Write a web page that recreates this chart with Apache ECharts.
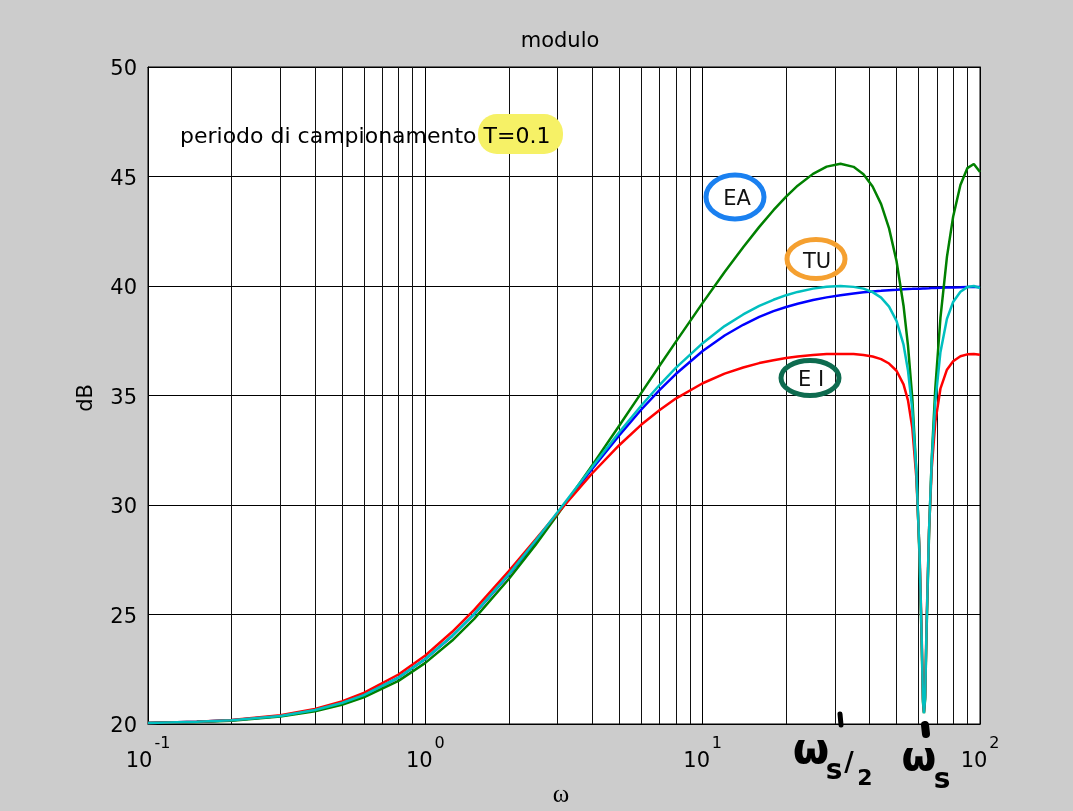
<!DOCTYPE html>
<html>
<head>
<meta charset="utf-8">
<script src="https://cdn.jsdelivr.net/npm/echarts@6/dist/echarts.min.js"></script>
<style>
html,body{margin:0;padding:0;background:#cccccc;}
#chart{width:1073px;height:811px;}
</style>
</head>
<body>
<div id="chart"></div>
<script>
// ---- data ----
const omega = [0.1,0.15,0.2,0.3,0.4,0.5,0.6,0.8,
  1,1.25,1.5,2,2.5,3,4,5,6,7,8,
  10,12,14,16,18,20,22,25,28,31.4,
  35,38,41,44,47,50,53,55,57,59,
  60.5,61.5,62.3,62.8,63.4,64.2,65.5,67,69,72,
  76,80,85,90,95,100];

// continuous-time response (blue)
const dbContinuous = [20.04,20.10,20.17,20.37,20.64,20.96,21.32,22.12,
  22.97,24.02,25.02,26.82,28.34,29.63,31.66,33.18,34.35,35.26,35.98,
  37.03,37.74,38.23,38.59,38.85,39.04,39.19,39.36,39.48,39.58,
  39.66,39.71,39.75,39.78,39.81,39.83,39.85,39.86,39.87,39.88,
  39.88,39.89,39.89,39.89,39.89,39.90,39.90,39.91,39.91,39.92,
  39.93,39.93,39.94,39.95,39.95,39.96];

// EA (green)
const dbEA = [20.04,20.09,20.15,20.34,20.58,20.88,21.22,21.97,
  22.79,23.81,24.80,26.62,28.19,29.56,31.82,33.62,35.11,36.37,37.45,
  39.23,40.64,41.77,42.70,43.46,44.08,44.58,45.12,45.45,45.58,
  45.44,45.10,44.54,43.74,42.63,41.14,39.10,37.28,34.88,31.48,
  27.69,24.14,20.98,20.50,21.11,24.29,28.67,32.15,35.34,38.54,
  41.33,43.16,44.61,45.38,45.57,45.21];

// EI (red)
const dbEI = [20.05,20.10,20.18,20.40,20.69,21.03,21.42,22.26,
  23.13,24.21,25.21,26.98,28.43,29.63,31.45,32.73,33.66,34.34,34.86,
  35.56,36.00,36.28,36.48,36.61,36.71,36.78,36.85,36.89,36.90,
  36.89,36.85,36.78,36.66,36.46,36.13,35.51,34.78,33.52,31.19,
  27.97,24.54,21.15,20.55,21.29,24.69,28.86,31.70,33.79,35.31,
  36.18,36.56,36.79,36.88,36.90,36.86];

// TU (cyan)
const dbTU = [20.04,20.10,20.17,20.37,20.64,20.96,21.32,22.12,
  22.97,24.03,25.03,26.84,28.38,29.68,31.75,33.32,34.53,35.49,36.26,
  37.39,38.17,38.70,39.09,39.37,39.58,39.73,39.88,39.97,40.00,
  39.96,39.88,39.72,39.47,39.06,38.41,37.32,36.14,34.35,31.45,
  27.89,24.36,21.07,20.50,21.20,24.51,28.84,32.05,34.71,36.98,
  38.50,39.27,39.74,39.95,40.00,39.91];

// axis ticks / labels
const xTickExp = ['-1','0','1','2'];          // labels 10^-1 .. 10^2
const xMinorGrid = [0.2,0.3,0.4,0.5,0.6,0.7,0.8,0.9,
  2,3,4,5,6,7,8,9,20,30,40,50,60,70,80,90];
const yTicks = [20,25,30,35,40,45,50];

const FONT = 'DejaVu Sans';
const pair = arr => omega.map((w, i) => [w, arr[i]]);

const chart = echarts.init(document.getElementById('chart'), null, {renderer: 'canvas'});

const frameAxis = {
  axisLine: {show: true, lineStyle: {color: '#000', width: 1}},
  axisTick: {show: true, inside: true, length: 5, lineStyle: {color: '#000'}},
  splitLine: {show: false},
  axisLabel: {show: false}
};

const option = {
  backgroundColor: '#cccccc',
  animation: false,
  grid: {
    left: 148, right: 93, top: 67, bottom: 87,
    show: true, backgroundColor: '#ffffff', borderColor: '#000', borderWidth: 1
  },
  xAxis: [{
    type: 'log', logBase: 10, min: 0.1, max: 100,
    axisLine: {show: true, lineStyle: {color: '#000', width: 1}},
    axisTick: {show: true, inside: true, length: 5, lineStyle: {color: '#000'}},
    splitLine: {show: true, lineStyle: {color: '#000', width: 1}},
    axisLabel: {
      margin: 13,
      formatter: function (v) {
        const idx = Math.round(Math.log10(v)) + 1;
        const ex = xTickExp[idx];
        const sp = ex.length > 1 ? 'sp2' : 'sp1';
        return '{e|' + ex + '}\n{b|10}{' + sp + '|}';
      },
      rich: {
        e: {fontSize: 16, fontFamily: FONT, color: '#000', lineHeight: 14, align: 'right'},
        b: {fontSize: 21, fontFamily: FONT, color: '#000', lineHeight: 22},
        sp1: {width: 12, lineHeight: 22},
        sp2: {width: 18, lineHeight: 22}
      }
    }
  }, Object.assign({type: 'log', logBase: 10, min: 0.1, max: 100, position: 'top'}, frameAxis)],
  yAxis: [{
    type: 'value', min: yTicks[0], max: yTicks[yTicks.length - 1], interval: 5,
    axisLine: {show: true, lineStyle: {color: '#000', width: 1}},
    axisTick: {show: true, inside: true, length: 5, lineStyle: {color: '#000'}},
    splitLine: {show: true, lineStyle: {color: '#000', width: 1}},
    axisLabel: {
      margin: 11,
      formatter: v => '{p|}\n{a|' + v + '}',
      rich: {
        p: {lineHeight: 6, fontSize: 6},
        a: {fontSize: 21, fontFamily: FONT, color: '#000', lineHeight: 22, align: 'right'}
      }
    }
  }, Object.assign({type: 'value', min: yTicks[0], max: yTicks[yTicks.length - 1], interval: 5, position: 'right'}, frameAxis)],
  series: [
    {
      name: 'continuo', type: 'line', data: pair(dbContinuous), showSymbol: false,
      lineStyle: {color: '#0000ff', width: 2.5}, itemStyle: {color: '#0000ff'}, z: 3,
      markLine: {
        silent: true, symbol: ['none', 'none'], label: {show: false},
        lineStyle: {color: '#111', width: 1, type: 'solid'},
        emphasis: {disabled: true},
        data: xMinorGrid.map(v => ({xAxis: v})),
        z: 1
      }
    },
    {name: 'EA', type: 'line', data: pair(dbEA), showSymbol: false,
      lineStyle: {color: '#008000', width: 2.5}, itemStyle: {color: '#008000'}, z: 4},
    {name: 'EI', type: 'line', data: pair(dbEI), showSymbol: false,
      lineStyle: {color: '#ff0000', width: 2.5}, itemStyle: {color: '#ff0000'}, z: 5},
    {name: 'TU', type: 'line', data: pair(dbTU), showSymbol: false,
      lineStyle: {color: '#00bfbf', width: 2.5}, itemStyle: {color: '#00bfbf'}, z: 6}
  ],
  graphic: [
    {type: 'text', x: 560, y: 42, z: 10,
      style: {text: 'modulo', fontSize: 21, fontFamily: FONT, fill: '#000', align: 'center', verticalAlign: 'middle'}},
    {type: 'text', x: 87, y: 398, rotation: Math.PI / 2, z: 10,
      style: {text: 'dB', fontSize: 21, fontFamily: FONT, fill: '#000', align: 'center', verticalAlign: 'middle'}},
    {type: 'text', x: 561, y: 795, z: 10,
      style: {text: 'ω', fontSize: 25, fontFamily: 'Liberation Serif', fill: '#000', align: 'center', verticalAlign: 'middle'}},
    // highlighted annotation
    {type: 'rect', z: 10, shape: {x: 478, y: 114, width: 85, height: 40, r: 19},
      style: {fill: '#f6f166'}},
    {type: 'text', x: 180, y: 137, z: 11,
      style: {text: 'periodo di campionamento T=0.1', fontSize: 22, fontFamily: FONT, fill: '#000', align: 'left', verticalAlign: 'middle'}},
    // circled labels
    {type: 'ellipse', z: 10, shape: {cx: 735, cy: 197, rx: 29, ry: 22},
      style: {fill: 'transparent', stroke: '#1a80f0', lineWidth: 5}},
    {type: 'text', x: 737, y: 200, z: 11,
      style: {text: 'EA', fontSize: 21, fontFamily: FONT, fill: '#111', align: 'center', verticalAlign: 'middle'}},
    {type: 'ellipse', z: 10, shape: {cx: 816, cy: 259, rx: 29, ry: 19.5},
      style: {fill: 'transparent', stroke: '#f5a030', lineWidth: 5}},
    {type: 'text', x: 817, y: 263, z: 11,
      style: {text: 'TU', fontSize: 21, fontFamily: FONT, fill: '#111', align: 'center', verticalAlign: 'middle'}},
    {type: 'ellipse', z: 10, shape: {cx: 810, cy: 378, rx: 29, ry: 17.5},
      style: {fill: 'transparent', stroke: '#0e6b4f', lineWidth: 5}},
    {type: 'text', x: 811, y: 381, z: 11,
      style: {text: 'E I', fontSize: 21, fontFamily: FONT, fill: '#111', align: 'center', verticalAlign: 'middle'}},
    // handwritten marks
    {type: 'line', z: 12, shape: {x1: 840, y1: 714, x2: 841, y2: 725},
      style: {stroke: '#000', lineWidth: 5, lineCap: 'round'}},
    {type: 'text', x: 811, y: 752, z: 12,
      style: {text: 'ω', fontSize: 42, fontWeight: 'bold', fontFamily: FONT, fill: '#000', align: 'center', verticalAlign: 'middle'}},
    {type: 'text', x: 834, y: 772, z: 12,
      style: {text: 's', fontSize: 28, fontWeight: 'bold', fontFamily: FONT, fill: '#000', align: 'center', verticalAlign: 'middle'}},
    {type: 'text', x: 849, y: 764, z: 12,
      style: {text: '/', fontSize: 26, fontWeight: 'bold', fontFamily: FONT, fill: '#000', align: 'center', verticalAlign: 'middle'}},
    {type: 'text', x: 865, y: 779, z: 12,
      style: {text: '2', fontSize: 22, fontWeight: 'bold', fontFamily: FONT, fill: '#000', align: 'center', verticalAlign: 'middle'}},
    {type: 'line', z: 12, shape: {x1: 925, y1: 725, x2: 926, y2: 734},
      style: {stroke: '#000', lineWidth: 8, lineCap: 'round'}},
    {type: 'text', x: 919, y: 760, z: 12,
      style: {text: 'ω', fontSize: 40, fontWeight: 'bold', fontFamily: FONT, fill: '#000', align: 'center', verticalAlign: 'middle'}},
    {type: 'text', x: 942, y: 781, z: 12,
      style: {text: 's', fontSize: 28, fontWeight: 'bold', fontFamily: FONT, fill: '#000', align: 'center', verticalAlign: 'middle'}}
  ]
};
chart.setOption(option);
</script>
</body>
</html>
